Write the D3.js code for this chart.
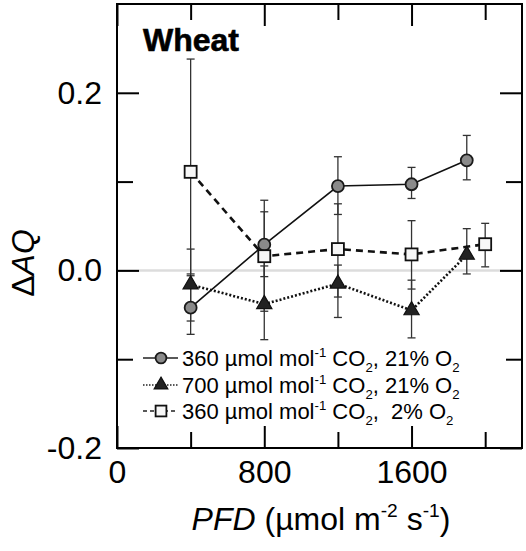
<!DOCTYPE html>
<html>
<head>
<meta charset="utf-8">
<script src="https://cdn.jsdelivr.net/npm/d3@7"></script>
<style>
  html, body { margin: 0; padding: 0; background: #fff; }
  svg { display: block; font-family: "Liberation Sans", Arial, Helvetica, sans-serif; }
</style>
</head>
<body>
<svg id="chart" width="526" height="551"></svg>
<script>
// ---- data ----
const circleX = [400, 800, 1200, 1600, 1900];
const circleY = [-0.042, 0.029, 0.095, 0.097, 0.124];
const circleLo = [-0.072, -0.007, 0.063, 0.081, 0.102];
const circleHi = [-0.006, 0.066, 0.128, 0.116, 0.152];

const triX = [400, 800, 1200, 1600, 1900];
const triY = [-0.016, -0.038, -0.015, -0.045, 0.0175];
const triLo = [-0.057, -0.078, -0.053, -0.076, -0.004];
const triHi = [0.024, 0.005, 0.006, -0.011, 0.047];

const sqX = [400, 800, 1200, 1600, 2000];
const sqY = [0.111, 0.016, 0.024, 0.018, 0.0295];
const sqLo = [-0.004, -0.046, -0.030, -0.021, 0.004];
const sqHi = [0.238, 0.079, 0.075, 0.056, 0.053];

const xMajorTicks = [0, 800, 1600];
const xMinorTicks = [400, 1200, 2000];
const yMajorTicks = [-0.2, 0.0, 0.2];
const yMinorTicks = [-0.1, 0.1];

const legendLabels = [
  [{t: "360 µmol mol"}, {t: "-1", s: "sup"}, {t: " CO"}, {t: "2", s: "sub"}, {t: ", 21% O"}, {t: "2", s: "sub"}],
  [{t: "700 µmol mol"}, {t: "-1", s: "sup"}, {t: " CO"}, {t: "2", s: "sub"}, {t: ", 21% O"}, {t: "2", s: "sub"}],
  [{t: "360 µmol mol"}, {t: "-1", s: "sup"}, {t: " CO"}, {t: "2", s: "sub"}, {t: ",\u00A0 2% O"}, {t: "2", s: "sub"}]
];

// ---- layout ----
const svg = d3.select("#chart");
const L = 117, R = 522, T = 4, B = 448;
const x = d3.scaleLinear().domain([0, 2200]).range([L, R]);
const y = d3.scaleLinear().domain([-0.2, 0.3]).range([B, T]);

const majorLen = 22, minorLen = 16;
const tickFont = 32;

function rich(textSel, parts, fs) {
  let shift = 0;
  parts.forEach(p => {
    const ts = textSel.append("tspan").text(p.t);
    let target = 0;
    if (p.s === "sup") { target = -0.4 * fs; ts.attr("font-size", 0.6 * fs); }
    else if (p.s === "sub") { target = 0.28 * fs; ts.attr("font-size", 0.6 * fs); }
    const dy = target - shift;
    if (dy !== 0) ts.attr("dy", dy);
    shift = target;
    if (p.i) ts.attr("font-style", "italic");
  });
}

// zero line
svg.append("line")
  .attr("x1", L).attr("x2", R).attr("y1", y(0)).attr("y2", y(0))
  .attr("stroke", "#dcdcdc").attr("stroke-width", 2.5);

// axes (inward ticks on all four sides)
function styleAxis(g) {
  g.select(".domain").remove();
  g.selectAll(".tick line").attr("stroke", "#000").attr("stroke-width", 2);
  g.selectAll(".tick text").attr("fill", "#000").attr("font-size", tickFont)
    .attr("font-family", "'Liberation Sans', Arial, sans-serif");
}
svg.append("g").attr("transform", `translate(0,${B})`)
  .call(d3.axisBottom(x).tickValues(xMajorTicks).tickSize(-majorLen).tickPadding(12).tickFormat(d3.format("d")))
  .call(styleAxis);
svg.append("g").attr("transform", `translate(0,${B})`)
  .call(d3.axisBottom(x).tickValues(xMinorTicks).tickSize(-minorLen).tickFormat(""))
  .call(styleAxis);
svg.append("g").attr("transform", `translate(0,${T})`)
  .call(d3.axisTop(x).tickValues(xMajorTicks).tickSize(-majorLen).tickFormat(""))
  .call(styleAxis);
svg.append("g").attr("transform", `translate(0,${T})`)
  .call(d3.axisTop(x).tickValues(xMinorTicks).tickSize(-minorLen).tickFormat(""))
  .call(styleAxis);
svg.append("g").attr("transform", `translate(${L},0)`)
  .call(d3.axisLeft(y).tickValues(yMajorTicks).tickSize(-majorLen).tickPadding(15).tickFormat(d3.format(".1f")))
  .call(styleAxis);
svg.append("g").attr("transform", `translate(${L},0)`)
  .call(d3.axisLeft(y).tickValues(yMinorTicks).tickSize(-minorLen).tickFormat(""))
  .call(styleAxis);
svg.append("g").attr("transform", `translate(${R},0)`)
  .call(d3.axisRight(y).tickValues(yMajorTicks).tickSize(-majorLen).tickFormat(""))
  .call(styleAxis);
svg.append("g").attr("transform", `translate(${R},0)`)
  .call(d3.axisRight(y).tickValues(yMinorTicks).tickSize(-minorLen).tickFormat(""))
  .call(styleAxis);

// reference uses a plain hyphen for negatives
svg.selectAll(".tick text").each(function() {
  const t = d3.select(this); t.text(t.text().replace("−", "-"));
});

// frame
svg.append("rect").attr("x", L).attr("y", T).attr("width", R - L).attr("height", B - T)
  .attr("fill", "none").attr("stroke", "#000").attr("stroke-width", 2);

// series
const series = [
  {xs: circleX, ys: circleY, lo: circleLo, hi: circleHi, type: "circle", dash: null, lw: 1.6},
  {xs: triX, ys: triY, lo: triLo, hi: triHi, type: "triangle", dash: "2,2", lw: 2.6},
  {xs: sqX, ys: sqY, lo: sqLo, hi: sqHi, type: "square", dash: "7,5", lw: 2.6}
];

const errG = svg.append("g");
series.forEach(s => {
  s.xs.forEach((xv, i) => {
    const g = errG.append("g").attr("stroke", "#333").attr("stroke-width", 1.3);
    g.append("line").attr("x1", x(xv)).attr("x2", x(xv)).attr("y1", y(s.lo[i])).attr("y2", y(s.hi[i]));
    [s.lo[i], s.hi[i]].forEach(v => {
      g.append("line").attr("x1", x(xv) - 4).attr("x2", x(xv) + 4).attr("y1", y(v)).attr("y2", y(v));
    });
  });
});

function drawMarker(g, type, cx, cy, scale) {
  scale = scale || 1;
  if (type === "circle") {
    g.append("circle").attr("cx", cx).attr("cy", cy).attr("r", 6 * scale)
      .attr("fill", "#8a8a8a").attr("stroke", "#1a1a1a").attr("stroke-width", 1.8);
  } else if (type === "triangle") {
    g.append("path").attr("d", d3.symbol().type(d3.symbolTriangle).size(100 * scale * scale)())
      .attr("transform", `translate(${cx},${cy})`)
      .attr("fill", "#222").attr("stroke", "#111").attr("stroke-width", 1.2);
  } else {
    const h = 6 * scale;
    g.append("rect").attr("x", cx - h).attr("y", cy - h).attr("width", 2 * h).attr("height", 2 * h)
      .attr("fill", "#f7f7f7").attr("stroke", "#111").attr("stroke-width", 1.8);
  }
}

series.forEach(s => {
  const line = d3.line().x((d, i) => x(s.xs[i])).y(d => y(d));
  svg.append("path").datum(s.ys).attr("d", line)
    .attr("fill", "none").attr("stroke", "#111").attr("stroke-width", s.lw)
    .attr("stroke-dasharray", s.dash);
  const mg = svg.append("g");
  s.ys.forEach((v, i) => drawMarker(mg, s.type, x(s.xs[i]), y(v)));
});

// legend
const legY = [358, 385, 411];
const legendDash = [null, "1.5,1.5", "4,3"];
series.forEach((s, k) => {
  const g = svg.append("g");
  g.append("line").attr("x1", 143).attr("x2", 178).attr("y1", legY[k]).attr("y2", legY[k])
    .attr("stroke", "#222").attr("stroke-width", 1.3).attr("stroke-dasharray", legendDash[k]);
  drawMarker(g, s.type, 161, legY[k], 0.9);
  const t = g.append("text").attr("x", 182).attr("y", legY[k] + 8).attr("font-size", 22).attr("fill", "#000");
  rich(t, legendLabels[k], 22);
});

// title "Wheat"
svg.append("text").attr("x", 143).attr("y", 51).attr("font-size", 32).attr("font-weight", "bold")
  .attr("fill", "#000").attr("stroke", "#000").attr("stroke-width", 0.6).text("Wheat");

// y axis title
const yt = svg.append("text").attr("transform", "translate(34,263) rotate(-90)")
  .attr("text-anchor", "middle").attr("font-size", 32).attr("fill", "#000");
yt.append("tspan").text("Δ");
yt.append("tspan").attr("font-style", "italic").text("AQ");

// x axis title
const xt = svg.append("text").attr("x", 321).attr("y", 530).attr("text-anchor", "middle")
  .attr("font-size", 32).attr("fill", "#000");
rich(xt, [{t: "PFD", i: true}, {t: " (µmol m"}, {t: "-2", s: "sup"}, {t: " s"}, {t: "-1", s: "sup"}, {t: ")"}], 32);
</script>
</body>
</html>
